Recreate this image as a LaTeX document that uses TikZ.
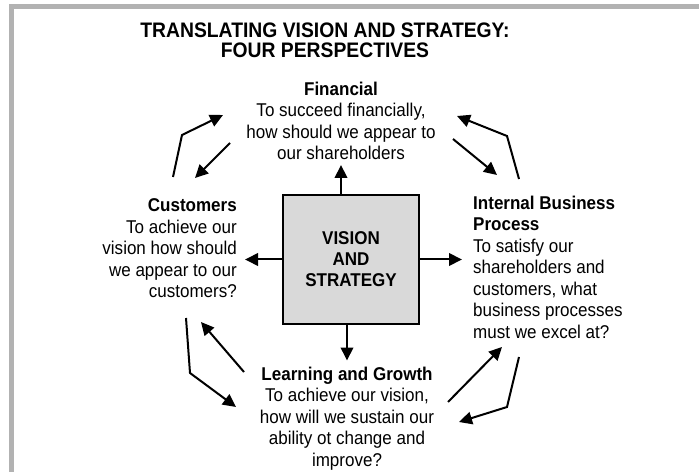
\documentclass[tikz,border=0pt]{standalone}
\usepackage{fontspec}
\setmainfont{Liberation Sans}[FakeStretch=0.92]
\usetikzlibrary{arrows.meta}

\begin{document}
\begin{tikzpicture}[x=1bp, y=-1bp,
    every node/.style={font=\fontsize{18.5bp}{21.5bp}\selectfont, inner sep=0pt},
    arr/.style={-{Triangle[length=13bp, width=12.5bp]}, line width=2bp}]
    \useasboundingbox (0,0) rectangle (699,472);

    % grey frame, top and left only
    \fill[black!30] (9,4) rectangle (699,9);
    \fill[black!30] (9,4) rectangle (14,472);

    \node[anchor=north, align=center, font=\fontsize{21bp}{19.5bp}\selectfont\bfseries] (title) at (325,23)
        {TRANSLATING VISION AND STRATEGY:\\FOUR PERSPECTIVES};

    \node[draw, line width=2bp, fill=black!15, minimum width=136bp, minimum height=129bp,
        align=center, font=\fontsize{18.5bp}{21bp}\selectfont\bfseries] (vs) at (351,259.5) {VISION\\AND\\STRATEGY};

    % the four perspectives
    \node[anchor=north, align=center] (fin) at (341,81.5)
        {\textbf{Financial}\\To succeed financially,\\how should we appear to\\our shareholders};
    \node[anchor=north east, align=right] (cust) at (237,198.5)
        {\textbf{Customers}\\To achieve our\\vision how should\\we appear to our\\customers?};
    \node[anchor=north west, align=left] (ibp) at (473,195.5)
        {\textbf{Internal Business}\\\textbf{Process}\\To satisfy our\\shareholders and\\customers, what\\business processes\\must we excel at?};
    \node[anchor=north, align=center] (lg) at (347,366.5)
        {\textbf{Learning and Growth}\\To achieve our vision,\\how will we sustain our\\ability ot change and\\improve?};

    % from the box out to each perspective
    \draw[arr, shorten >=5bp] (vs.north -| fin.south) -- (fin.south);
    \draw[arr, shorten >=6bp] (vs.south -| lg.north) -- (lg.north);
    \draw[arr, shorten >=8bp] (vs.west) -- (vs.west -| cust.east);
    \draw[arr, shorten >=11bp] (vs.east) -- (vs.east -| ibp.west);

    % cycle arrows between the perspectives
    \coordinate (tla) at (173,177); \coordinate (tlb) at (182,135); \coordinate (tlc) at (223,115);
    \coordinate (tld) at (230,143); \coordinate (tle) at (195,178);
    \coordinate (tra) at (519,179); \coordinate (trb) at (507,136); \coordinate (trc) at (457,116);
    \coordinate (trd) at (453,139); \coordinate (tre) at (497,175);
    \coordinate (bra) at (519,357); \coordinate (brb) at (507,407); \coordinate (brc) at (459,422);
    \coordinate (brd) at (448,402); \coordinate (bre) at (502,347);
    \coordinate (bla) at (186,318); \coordinate (blb) at (190,373); \coordinate (blc) at (236,407);
    \coordinate (bld) at (244,372); \coordinate (ble) at (201,322);

    \draw[arr] (tla) -- (tlb) -- (tlc);
    \draw[arr] (tld) -- (tle);
    \draw[arr] (tra) -- (trb) -- (trc);
    \draw[arr] (trd) -- (tre);
    \draw[arr] (bra) -- (brb) -- (brc);
    \draw[arr] (brd) -- (bre);
    \draw[arr] (bla) -- (blb) -- (blc);
    \draw[arr] (bld) -- (ble);
\end{tikzpicture}
\end{document}
